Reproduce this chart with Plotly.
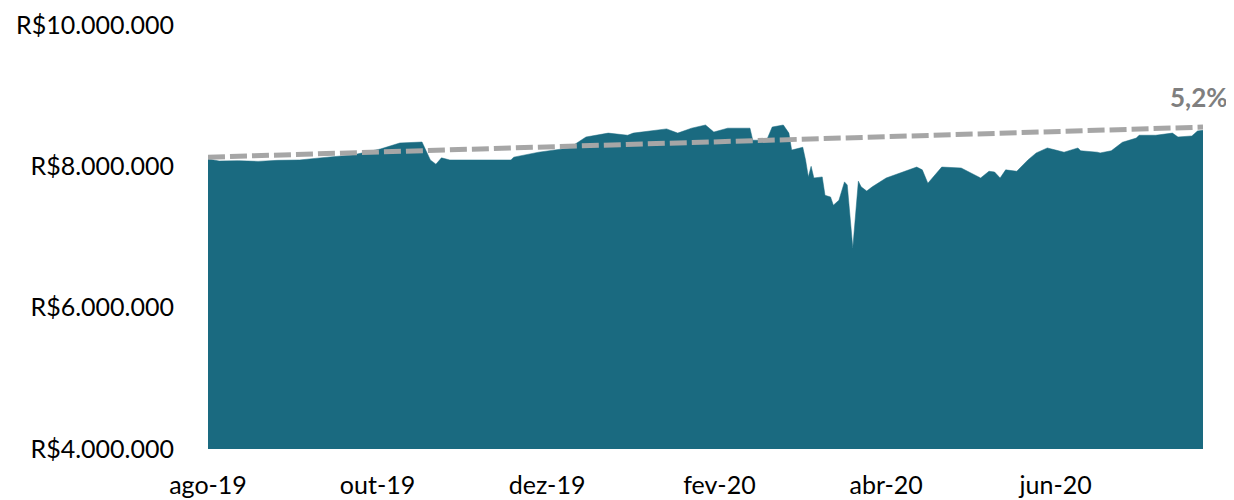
import plotly.graph_objects as go

dates = [
    "2019-08-01", "2019-08-05", "2019-08-12", "2019-08-19", "2019-08-26", "2019-09-03",
    "2019-09-13", "2019-09-22", "2019-10-02", "2019-10-09", "2019-10-17", "2019-10-20",
    "2019-10-22", "2019-10-24", "2019-10-27", "2019-11-07", "2019-11-18", "2019-11-19",
    "2019-11-28", "2019-12-09", "2019-12-15", "2019-12-23", "2019-12-30", "2020-01-01",
    "2020-01-13", "2020-01-17", "2020-01-22", "2020-01-27", "2020-01-30", "2020-02-04",
    "2020-02-12", "2020-02-13", "2020-02-18", "2020-02-20", "2020-02-24", "2020-02-26",
    "2020-02-27", "2020-03-02", "2020-03-03", "2020-03-04", "2020-03-05", "2020-03-06",
    "2020-03-09", "2020-03-10", "2020-03-12", "2020-03-13", "2020-03-15", "2020-03-17",
    "2020-03-18", "2020-03-20", "2020-03-22", "2020-03-23", "2020-03-25", "2020-03-27",
    "2020-03-30", "2020-04-01", "2020-04-12", "2020-04-14", "2020-04-16", "2020-04-21",
    "2020-04-28", "2020-05-05", "2020-05-08", "2020-05-10", "2020-05-12", "2020-05-14",
    "2020-05-18", "2020-05-22", "2020-05-25", "2020-05-29", "2020-06-01", "2020-06-04",
    "2020-06-09", "2020-06-10", "2020-06-16", "2020-06-17", "2020-06-21", "2020-06-25",
    "2020-06-30", "2020-07-01", "2020-07-07", "2020-07-13", "2020-07-15", "2020-07-18",
    "2020-07-20", "2020-07-22", "2020-07-24",
]
values = [
    8.104, 8.075, 8.080, 8.070, 8.085, 8.090,
    8.130, 8.160, 8.245, 8.330, 8.344, 8.090,
    8.030, 8.120, 8.090, 8.090, 8.090, 8.130,
    8.200, 8.260, 8.415, 8.470, 8.440, 8.470,
    8.530, 8.470, 8.540, 8.585, 8.485, 8.540,
    8.540, 8.370, 8.370, 8.556, 8.585, 8.470,
    8.230, 8.270, 8.090, 7.850, 8.000, 7.835,
    7.850, 7.590, 7.566, 7.450, 7.520, 7.780,
    7.735, 6.845, 7.790, 7.710, 7.650, 7.710,
    7.780, 7.835, 7.990, 7.950, 7.760, 7.990,
    7.976, 7.835, 7.930, 7.920, 7.835, 7.950,
    7.930, 8.090, 8.190, 8.260, 8.230, 8.200,
    8.260, 8.220, 8.200, 8.190, 8.220, 8.340,
    8.400, 8.440, 8.440, 8.470, 8.415, 8.430,
    8.430, 8.500, 8.510,
]
values = [v * 1_000_000 for v in values]

trend_dates = ["2019-08-01", "2020-07-24"]
trend_values = [8_130_000, 8_555_000]
trend_label = "5,2%"

tick_dates = ["2019-08-01", "2019-10-01", "2019-12-01", "2020-02-01", "2020-04-01", "2020-06-01"]
tick_text = ["ago-19", "out-19", "dez-19", "fev-20", "abr-20", "jun-20"]
y_ticks = [4_000_000, 6_000_000, 8_000_000, 10_000_000]
y_text = ["R$4.000.000", "R$6.000.000", "R$8.000.000", "R$10.000.000"]

FONT = "Lato"
fig = go.Figure()
fig.add_trace(go.Scatter(
    x=dates, y=values, mode="lines", fill="tozeroy",
    line=dict(color="#1A6A80", width=0.5), fillcolor="#1A6A80",
    hoverinfo="skip", showlegend=False,
))
fig.add_trace(go.Scatter(
    x=trend_dates, y=trend_values, mode="lines",
    line=dict(color="#A6A6A6", width=5, dash="17px,5px"),
    hoverinfo="skip", showlegend=False,
))
fig.add_annotation(
    x=1, xref="paper", xshift=27, y=trend_values[-1], yref="y", yshift=30,
    text=f"<b>{trend_label}</b>", showarrow=False, xanchor="right",
    font=dict(family=FONT, size=26, color="#7F7F7F"),
)
fig.update_layout(
    width=1226, height=492,
    margin=dict(l=200, r=31, t=17, b=51),
    plot_bgcolor="white", paper_bgcolor="white",
    font=dict(family=FONT, size=25, color="#000000"),
    xaxis=dict(
        type="date", range=["2019-08-01", "2020-07-24"],
        tickvals=tick_dates, ticktext=tick_text,
        showgrid=False, zeroline=False, showline=False, ticks="",
        ticklabelstandoff=19, automargin=False,
    ),
    yaxis=dict(
        range=[4_000_000, 10_000_000],
        tickvals=y_ticks, ticktext=y_text,
        showgrid=False, zeroline=False, showline=False, ticks="",
        ticklabelstandoff=33, automargin=False,
    ),
)
fig.write_html("out.html")
